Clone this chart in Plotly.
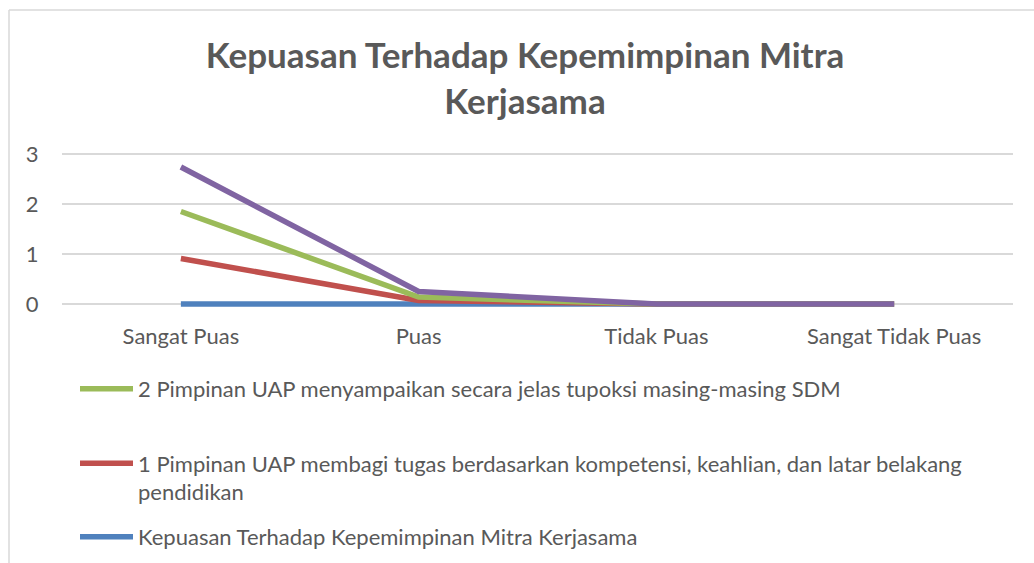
import plotly.graph_objects as go

categories = ["Sangat Puas", "Puas", "Tidak Puas", "Sangat Tidak Puas"]

blue_name = "Kepuasan Terhadap Kepemimpinan Mitra Kerjasama"
blue_vals = [0, 0, 0, 0]

red_name = "1 Pimpinan UAP membagi tugas berdasarkan kompetensi, keahlian, dan latar belakang<br>pendidikan"
red_vals = [0.91, 0.07, 0, 0]

green_name = "2 Pimpinan UAP menyampaikan secara jelas tupoksi masing-masing SDM"
green_vals = [1.85, 0.14, 0, 0]

purple_name = "Total"
purple_vals = [2.74, 0.25, 0, 0]

W, H = 1034, 563
FONT = "Lato, Carlito, 'Open Sans', sans-serif"
GRAY = "#595959"
GRID = "#d9d9d9"

fig = go.Figure()

series = [
    (blue_name, blue_vals, "#4f81bd", "legend3"),
    (red_name, red_vals, "#c0504d", "legend2"),
    (green_name, green_vals, "#9bbb59", "legend"),
    (purple_name, purple_vals, "#8064a2", None),
]
for name, vals, color, leg in series:
    fig.add_trace(
        go.Scatter(
            x=categories,
            y=vals,
            mode="lines",
            name=name,
            line=dict(color=color, width=5.5),
            showlegend=leg is not None,
            legend=leg or "legend",
        )
    )

# plot area in pixels: x 62..1013, y 149..314
l, r, t, b = 62, W - 1013, 149, H - 314
pw, ph = 1013 - 62, 314 - 149


def px_x(x):
    return (x - l) / pw


def px_y(y):
    return (314 - y) / ph


legend_common = dict(
    xref="container",
    yref="container",
    xanchor="left",
    yanchor="middle",
    font=dict(family=FONT, size=22, color=GRAY),
    bgcolor="rgba(0,0,0,0)",
    itemwidth=53,
    itemclick=False,
)

fig.update_layout(
    width=W,
    height=H,
    paper_bgcolor="white",
    plot_bgcolor="white",
    margin=dict(l=l, r=r, t=t, b=b, autoexpand=False),
    title=dict(
        text="Kepuasan Terhadap Kepemimpinan Mitra<br>Kerjasama",
        font=dict(family=FONT, size=35, color=GRAY, weight="bold"),
        x=525 / W,
        xanchor="center",
        xref="container",
        yref="container",
        y=1 - 68 / H,
        yanchor="middle",
    ),
    legend=dict(legend_common, x=75 / W, y=1 - 389 / H),
    legend2=dict(legend_common, x=75 / W, y=1 - 478 / H, valign="top"),
    legend3=dict(legend_common, x=75 / W, y=1 - 537 / H),
    shapes=[
        dict(type="line", xref="paper", yref="paper",
             x0=px_x(9), x1=px_x(1040), y0=px_y(10), y1=px_y(10),
             line=dict(color=GRID, width=1.5)),
        dict(type="line", xref="paper", yref="paper",
             x0=px_x(9), x1=px_x(9), y0=px_y(10), y1=px_y(600),
             line=dict(color=GRID, width=1.5)),
    ],
)

fig.update_xaxes(
    range=[-0.5, 3.5],
    showgrid=False,
    showline=False,
    zeroline=False,
    ticks="outside",
    ticklen=3,
    tickcolor="rgba(0,0,0,0)",
    tickfont=dict(family=FONT, size=22, color=GRAY),
)
fig.update_yaxes(
    range=[-0.2, 3.1],
    tickvals=[0, 1, 2, 3],
    showgrid=True,
    gridcolor=GRID,
    gridwidth=1.5,
    zeroline=False,
    showline=False,
    ticks="outside",
    ticklen=18,
    tickcolor="rgba(0,0,0,0)",
    tickfont=dict(family=FONT, size=22, color=GRAY),
)

fig.write_html(
    "out.html",
    config={"displayModeBar": False},
    post_script="document.body.style.margin='0';",
)
